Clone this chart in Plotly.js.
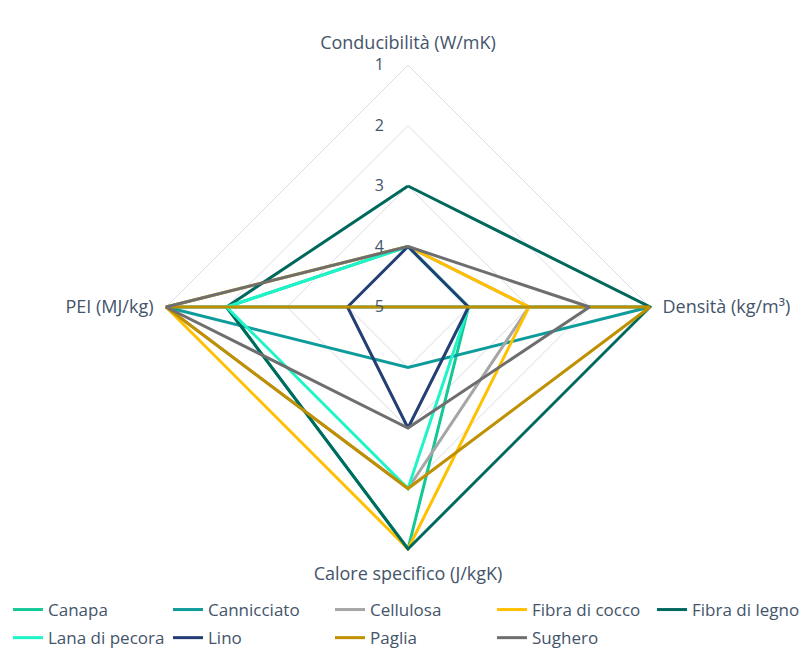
<!DOCTYPE html>
<html>
<head>
<meta charset="utf-8">
<script src="https://cdn.plot.ly/plotly-3.0.1.min.js"></script>
<style>html,body{margin:0;padding:0;background:#fff;}#chart{width:803px;height:650px;}</style>
</head>
<body>
<div id="chart"></div>
<script>
// Axes (categories)
const categories = ["Conducibilità (W/mK)", "Densità (kg/m³)", "Calore specifico (J/kgK)", "PEI (MJ/kg)"];
const radialTicks = [1, 2, 3, 4, 5];

// Series names
const seriesNames = ["Canapa", "Cannicciato", "Cellulosa", "Fibra di cocco", "Fibra di legno",
                     "Lana di pecora", "Lino", "Paglia", "Sughero"];

// Series values (order: Conducibilità, Densità, Calore specifico, PEI)
const canapa       = [4, 4, 1, 2];
const cannicciato  = [5, 1, 4, 1];
const cellulosa    = [4, 3, 2, 1];
const fibraCocco   = [4, 3, 1, 1];
const fibraLegno   = [3, 1, 1, 2];
const lanaPecora   = [4, 4, 2, 2];
const lino         = [4, 4, 3, 4];
const paglia       = [5, 1, 2, 1];
const sughero      = [4, 2, 3, 1];

const seriesValues = [canapa, cannicciato, cellulosa, fibraCocco, fibraLegno, lanaPecora, lino, paglia, sughero];
const seriesColors = ["#14C896", "#0E9C9A", "#A6A6A6", "#FFC000", "#00695E", "#1DF5C8", "#233E74", "#BF9000", "#6E6E6E"];

const FONT = "'Open Sans', sans-serif";
const TXT = "#44546A";

// legend column for each series (5 columns, 2 rows)
const legendIds = ["legend", "legend2", "legend3", "legend4", "legend5"];
const legendX = [8, 168, 330, 492, 652];

const traces = seriesNames.map((name, i) => ({
  type: "scatterpolar",
  mode: "lines",
  name: name,
  r: seriesValues[i].concat([seriesValues[i][0]]),
  theta: categories.concat([categories[0]]),
  line: {color: seriesColors[i], width: 3},
  cliponaxis: false,
  legend: legendIds[i % 5],
  legendgroup: "g" + i,
  hoverinfo: "skip"
}));

// radial range slightly beyond 1 so outer lines are not clipped
const rOuter = 0.96;
const R = 242 * (5 - rOuter) / 4;
const cx = 408, cy = 650 - 307;

const layout = {
  width: 803, height: 650,
  margin: {l: 0, r: 0, t: 0, b: 0, autoexpand: false},
  paper_bgcolor: "#fff",
  showlegend: true,
  font: {family: FONT, size: 16, color: TXT},
  polar: {
    domain: {x: [(cx - R) / 803, (cx + R) / 803], y: [(cy - R) / 650, (cy + R) / 650]},
    gridshape: "linear",
    bgcolor: "rgba(0,0,0,0)",
    angularaxis: {
      rotation: 90,
      direction: "clockwise",
      showgrid: false,
      showline: false,
      ticks: "outside",
      ticklen: 6,
      tickcolor: "rgba(0,0,0,0)",
      tickfont: {family: FONT, size: 18, color: TXT}
    },
    radialaxis: {
      range: [5, rOuter],
      angle: 90,
      tickangle: 90,
      side: "counterclockwise",
      tickvals: radialTicks,
      ticktext: radialTicks.map(String),
      showline: false,
      ticks: "outside",
      ticklen: 18,
      tickcolor: "rgba(0,0,0,0)",
      gridcolor: "#DADDE4",
      gridwidth: 1,
      tickfont: {family: FONT, size: 16, color: TXT}
    }
  }
};

legendIds.forEach((id, k) => {
  layout[id] = {
    orientation: "v",
    x: legendX[k] / 803, xanchor: "left",
    y: (650 - 592) / 650, yanchor: "top",
    font: {family: FONT, size: 17, color: TXT},
    itemwidth: 30,
    tracegroupgap: 3,
    bgcolor: "rgba(0,0,0,0)",
    traceorder: "grouped"
  };
});

Plotly.newPlot("chart", traces, layout, {displayModeBar: false, responsive: false});
</script>
</body>
</html>
